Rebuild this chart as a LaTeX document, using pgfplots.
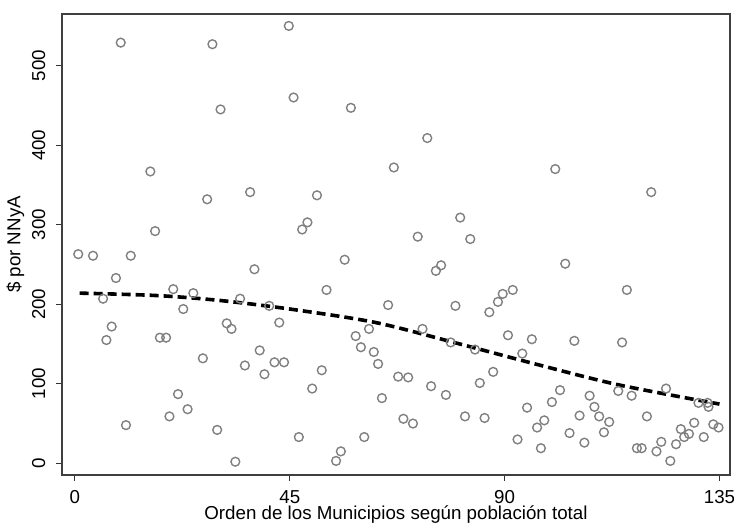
\documentclass[border=0pt]{standalone}
\usepackage{fontspec}
\setmainfont{Liberation Sans}
\usepackage{pgfplots}
\pgfplotsset{compat=1.18}
\begin{document}
\fontsize{9.4}{11}\selectfont
\begin{tikzpicture}
\begin{axis}[
  name=ax, at={(0,0)}, anchor=south west,
  scale only axis, width=334bp, height=230.5bp,
  xmin=-2.7, xmax=137.2, ymin=-14.7, ymax=565,
  xtick={0,45,90,135}, ytick={0,100,200,300,400,500},
  xtick pos=bottom, ytick pos=left,
  tick align=outside, major tick length=3bp,
  axis line style={black!75, line width=0.8bp},
  every tick/.style={black!80, line width=0.6bp},
  /pgf/number format/assume math mode=true,
  yticklabel style={rotate=90, anchor=south},
  xticklabel shift=1.5bp, yticklabel shift=2bp,
  xlabel={Orden de los Municipios según población total},
  ylabel={\$ por NNyA},
  xlabel style={yshift=5.5bp},
  ylabel style={yshift=-2.5bp},
  clip=false,
]
\addplot[only marks, mark=o, mark size=2.2bp, mark options={draw=black!50, line width=0.7bp}] table {
x y
0.7 263
3.8 261
5.9 207
6.6 155
7.7 172
8.6 233
9.6 529
10.7 48
11.7 261
15.8 367
16.8 292
17.8 158
19.1 158
19.8 59
20.6 219
21.6 87
22.7 194
23.6 68
24.8 214
26.8 132
27.7 332
28.8 527
29.8 42
30.5 445
31.8 176
32.8 169
33.6 2
34.6 207
35.6 123
36.7 341
37.6 244
38.7 142
39.7 112
40.7 198
41.8 127
42.8 177
43.8 127
44.8 550
45.8 460
46.9 33
47.6 294
48.7 303
49.7 94
50.7 337
51.7 117
52.7 218
54.7 3
55.7 15
56.5 256
57.8 447
58.8 160
59.9 146
60.6 33
61.6 169
62.6 140
63.5 125
64.3 82
65.6 199
66.8 372
67.7 109
68.8 56
69.8 108
70.8 50
71.8 285
72.8 169
73.8 409
74.6 97
75.6 242
76.7 249
77.7 86
78.7 152
79.7 198
80.7 309
81.7 59
82.8 282
83.8 143
84.8 101
85.8 57
86.8 190
87.6 115
88.6 203
89.6 213
90.7 161
91.7 218
92.7 30
93.7 138
94.7 70
95.7 156
96.8 45
97.6 19
98.3 54
99.9 77
100.6 370
101.6 92
102.7 251
103.6 38
104.6 154
105.7 60
106.7 26
107.8 85
108.8 71
109.8 59
110.8 39
111.9 52
113.8 91
114.6 152
115.6 218
116.6 85
117.7 19
118.7 19
119.8 59
120.7 341
121.8 15
122.8 27
123.8 94
124.7 3
125.9 24
126.9 43
127.6 33
128.6 37
129.7 51
130.6 76
131.7 33
132.5 76
132.7 71
133.7 49
134.8 45
};
\addplot[black, line width=1.8bp, dash pattern=on 4.5bp off 2.5bp, smooth] coordinates {
(1,214) (17,211) (30,205) (45,194) (63,177) (80,151) (97,124) (114,98.5) (135,74.5)
};
\end{axis}
\pgfresetboundingbox
\useasboundingbox ([xshift=-31bp,yshift=-25bp]ax.south west) rectangle ([xshift=336bp,yshift=237.5bp]ax.south west);
\end{tikzpicture}
\end{document}
